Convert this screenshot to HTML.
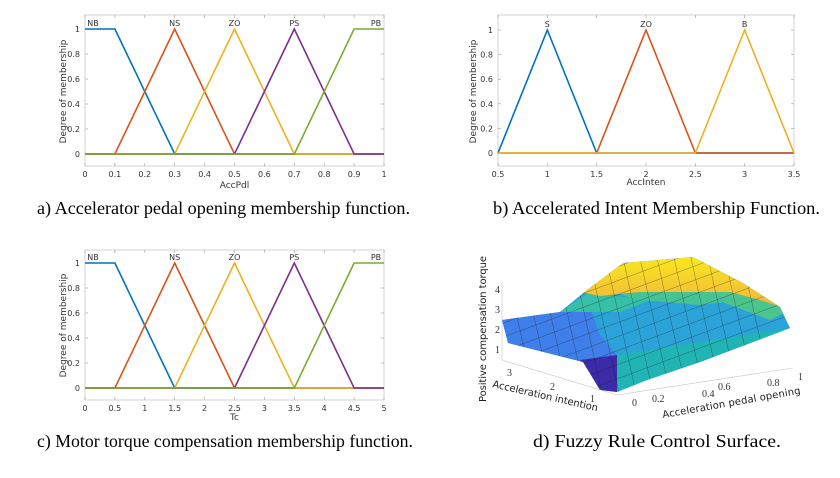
<!DOCTYPE html>
<html><head><meta charset="utf-8"><style>
html,body{margin:0;padding:0;background:#fff;}
svg{display:block;}
</style></head><body>
<svg id="s" width="840" height="478" xmlns="http://www.w3.org/2000/svg" font-family="'DejaVu Sans','Liberation Sans',sans-serif">
<rect width="840" height="478" fill="#fff"/>
<g id="plots"></g>
<defs>
<clipPath id="sil"><polygon points="502,320 560,312 587,290 623,263 693,257 743,283 780,307 790,328 700,362 647,380 617,392 600,390 583,362 508,343"/></clipPath>
<linearGradient id="top" x1="0" y1="0" x2="0" y2="1"><stop offset="0" stop-color="#f9e81f"/><stop offset="1" stop-color="#f2b13e"/></linearGradient>
</defs>
<g stroke="#1a1a1a" stroke-width="0.4">
<g clip-path="url(#sil)">
<rect x="495" y="250" width="300" height="150" fill="#2ca3d8" stroke="none"/>
<polygon points="495,315 560,310 590,308 600,335 617,355 585,362 500,350" fill="#3f7fe9" stroke="none"/>
<polygon points="560,312 590,292 615,296 650,300 620,312" fill="#36c0a8" stroke="none"/>
<polygon points="690,290 745,285 790,310 770,320 730,305" fill="#4cc48e" stroke="none"/>
<polygon points="620,295 640,300 700,305 740,300 700,292 650,290" fill="#46c394" stroke="none"/>
<polygon points="580,292 623,263 693,257 743,283 790,310 760,300 730,292 690,292 640,292 600,296" fill="url(#top)" stroke="none"/>
<polygon points="617,355 790,328 800,330 700,370 617,400" fill="#20b4b4" stroke="none"/>
<polygon points="580,360 617,355 617,400 595,395" fill="#3b2ba8" stroke="none"/>
<g id="mesh" stroke="#222" stroke-width="0.45" opacity="0.6"></g>
</g>
</g>
<g stroke="#c4c4c4" stroke-width="0.6" fill="none">
<line x1="502" y1="283" x2="502" y2="360"/>
<line x1="502" y1="360" x2="617" y2="395"/>
<line x1="617" y1="395" x2="793" y2="368"/>
</g>
<g font-family="'Liberation Serif',serif" font-size="10" fill="#333">
<text x="495" y="293">4</text><text x="495" y="313">3</text><text x="495" y="333">2</text><text x="495" y="353">1</text>
<text x="507" y="376">3</text><text x="550" y="390">2</text><text x="590" y="402">1</text>
<text x="632" y="406">0</text><text x="652" y="402">0.2</text><text x="702" y="397">0.4</text><text x="718" y="390">0.6</text><text x="767" y="386">0.8</text><text x="798" y="380">1</text>
</g>
<g font-size="10" fill="#222">
<text transform="translate(486,402) rotate(-90)" textLength="146">Positive compensation torque</text>
<text transform="translate(492,387) rotate(13)" textLength="108">Acceleration intention</text>
<text transform="translate(663,418) rotate(-10)" textLength="140">Acceleration pedal opening</text>
</g>
<g font-family="'Liberation Serif',serif" font-size="18" fill="#000">
<text x="37" y="214" textLength="373" lengthAdjust="spacingAndGlyphs">a) Accelerator pedal opening membership function.</text>
<text x="493" y="214" textLength="327" lengthAdjust="spacingAndGlyphs">b) Accelerated Intent Membership Function.</text>
<text x="37" y="447" textLength="376" lengthAdjust="spacingAndGlyphs">c) Motor torque compensation membership function.</text>
<text x="533" y="447" textLength="248" lengthAdjust="spacingAndGlyphs">d) Fuzzy Rule Control Surface.</text>
</g>
</svg>
<script>
(function(){
var g=document.getElementById('plots'),out='';
var C={b:'#0072bd',o:'#d95319',y:'#edb120',p:'#7e2f8e',g:'#77ac30'};
function plot(o){
 var X=function(v){return o.x0+(v-o.d0)/(o.d1-o.d0)*(o.x1-o.x0)};
 var Y=function(v){return o.y0+(o.y1-o.y0)*v};
 out+='<rect x="'+o.x0+'" y="'+o.top+'" width="'+(o.x1-o.x0)+'" height="'+(o.bot-o.top)+'" fill="none" stroke="#c8c8c8" stroke-width="0.8"/>';
 for(var i=0;i<=5;i++){var v=i/5,yy=Y(v);
  out+='<line x1="'+o.x0+'" x2="'+(o.x0+3)+'" y1="'+yy+'" y2="'+yy+'" stroke="#999" stroke-width="0.6"/>';
  out+='<line x1="'+o.x1+'" x2="'+(o.x1-3)+'" y1="'+yy+'" y2="'+yy+'" stroke="#999" stroke-width="0.6"/>';
  out+='<text x="'+(o.x0-5)+'" y="'+(yy+3)+'" font-size="8" fill="#333" text-anchor="end">'+(i==0?'0':i==5?'1':v.toFixed(1))+'</text>';}
 o.ticks.forEach(function(t){var xx=X(t);
  out+='<line x1="'+xx+'" x2="'+xx+'" y1="'+o.bot+'" y2="'+(o.bot-3)+'" stroke="#999" stroke-width="0.6"/>';
  out+='<line x1="'+xx+'" x2="'+xx+'" y1="'+o.top+'" y2="'+(o.top+3)+'" stroke="#999" stroke-width="0.6"/>';
  out+='<text x="'+xx+'" y="'+o.ty+'" font-size="8" fill="#333" text-anchor="middle">'+t+'</text>';});
 out+='<text x="'+((o.x0+o.x1)/2)+'" y="'+o.xly+'" font-size="9" fill="#333" text-anchor="middle">'+o.xl+'</text>';
 out+='<text transform="translate('+o.yly+','+((o.y0+o.y1)/2)+') rotate(-90)" font-size="9" fill="#333" text-anchor="middle">Degree of membership</text>';
 o.s.forEach(function(s){var p=s.pts.map(function(q){return X(q[0])+','+Y(q[1])}).join(' ');
  out+='<polyline points="'+p+'" fill="none" stroke="'+s.c+'" stroke-width="1.6"/>';
  out+='<text x="'+Math.min(Math.max(X(s.lx),o.x0+8),o.x1-8)+'" y="'+(o.y1-3)+'" font-size="8" fill="#333" text-anchor="middle">'+s.n+'</text>';});
}
function five(d,a,b,c,e,f,h){return [
 {n:'NB',c:C.b,lx:d,pts:[[d,1],[a,1],[b,0],[h,0]]},
 {n:'NS',c:C.o,lx:b,pts:[[d,0],[a,0],[b,1],[c,0],[h,0]]},
 {n:'ZO',c:C.y,lx:c,pts:[[d,0],[b,0],[c,1],[e,0],[h,0]]},
 {n:'PS',c:C.p,lx:e,pts:[[d,0],[c,0],[e,1],[f,0],[h,0]]},
 {n:'PB',c:C.g,lx:h,pts:[[d,0],[e,0],[f,1],[h,1]]}];}
plot({x0:85,x1:384,d0:0,d1:1,y0:154,y1:29,top:15,bot:166,ty:177,xly:188,xl:'AccPdl',yly:66,
 ticks:[0,0.1,0.2,0.3,0.4,0.5,0.6,0.7,0.8,0.9,1],s:five(0,0.1,0.3,0.5,0.7,0.9,1)});
plot({x0:498,x1:794,d0:0.5,d1:3.5,y0:153,y1:30,top:15,bot:166,ty:177,xly:185,xl:'AccInten',yly:476,
 ticks:[0.5,1,1.5,2,2.5,3,3.5],s:[
 {n:'S',c:C.b,lx:1,pts:[[0.5,0],[1,1],[1.5,0],[3.5,0]]},
 {n:'ZO',c:C.o,lx:2,pts:[[0.5,0],[1.5,0],[2,1],[2.5,0],[3.5,0]]},
 {n:'B',c:C.y,lx:3,pts:[[0.5,0],[2.5,0],[3,1],[3.5,0]]}]});
plot({x0:85,x1:384,d0:0,d1:5,y0:388,y1:263,top:250,bot:400,ty:411,xly:420,xl:'Tc',yly:66,
 ticks:[0,0.5,1,1.5,2,2.5,3,3.5,4,4.5,5],s:five(0,0.5,1.5,2.5,3.5,4.5,5)});
g.innerHTML=out;
var m='';
for(var i=-8;i<=14;i++){var x=500+i*17;m+='<line x1="'+x+'" y1="240" x2="'+(x+40)+'" y2="420"/>';}
for(var j=-6;j<=9;j++){var y=300+j*14;m+='<line x1="490" y1="'+(y+70)+'" x2="800" y2="'+(y-45)+'"/>';}
document.getElementById('mesh').innerHTML=m;
})();
</script>
</body></html>
